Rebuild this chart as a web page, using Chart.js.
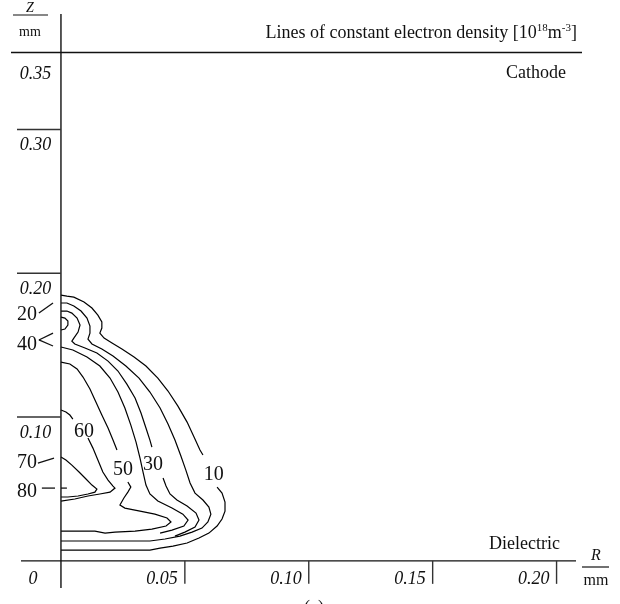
<!DOCTYPE html>
<html>
<head>
<meta charset="utf-8">
<script src="https://cdn.jsdelivr.net/npm/chart.js@4.4.0/dist/chart.umd.min.js"></script>
<style>
  html, body { margin: 0; padding: 0; background: #fff; }
  #wrap { width: 620px; height: 604px; }
</style>
</head>
<body>
<div id="wrap"><canvas id="chart" width="620" height="604"></canvas></div>
<script>
// --- contour lines, R and Z in mm (null = gap where a label sits) ---
const r10 = [0, 0.0024, 0.0052, 0.0093, 0.0125, 0.0149, 0.0165, 0.0165, 0.0157, 0.0174, 0.0206, 0.0246, 0.0295, 0.0343, 0.0391, 0.0432, 0.0472, 0.0509, 0.0537, 0.0561, 0.0573, null, 0.0630, 0.0650, 0.0662, 0.0662, 0.0650, 0.0630, 0.0597, 0.0557, 0.0509, 0.0452, 0.0400, 0.0359, 0];
const z10 = [0.1848, 0.1841, 0.1834, 0.1800, 0.1758, 0.1709, 0.1661, 0.1619, 0.1584, 0.1549, 0.1515, 0.1473, 0.1417, 0.1355, 0.1271, 0.1181, 0.1076, 0.0965, 0.0861, 0.0771, 0.0736, null, 0.0513, 0.0471, 0.0409, 0.0346, 0.0291, 0.0242, 0.0193, 0.0159, 0.0124, 0.0103, 0.0089, 0.0075, 0.0075];

const r20 = [0, 0.0024, 0.0052, 0.0081, 0.0105, 0.0117, 0.0117, 0.0109, 0.0125, 0.0165, 0.0210, 0.0262, 0.0315, 0.0359, 0.0400, 0.0432, 0.0460, 0.0484, 0.0504, 0.0521, 0.0541, 0.0573, 0.0597, 0.0605, 0.0593, 0.0569, 0.0529, 0.0480, 0.0420, 0.0359, 0];
const z20 = [0.1793, 0.1793, 0.1772, 0.1737, 0.1688, 0.1633, 0.1584, 0.1542, 0.1508, 0.1473, 0.1424, 0.1355, 0.1271, 0.1174, 0.1063, 0.0951, 0.0840, 0.0729, 0.0631, 0.0541, 0.0471, 0.0423, 0.0374, 0.0325, 0.0270, 0.0228, 0.0200, 0.0172, 0.0152, 0.0138, 0.0138];

const r30 = [0, 0.0024, 0.0044, 0.0065, 0.0077, 0.0069, 0.0052, 0.0044, 0.0056, 0.0097, 0.0145, 0.0190, 0.0230, 0.0266, 0.0299, 0.0323, 0.0343, 0.0359, 0.0367, null, 0.0412, 0.0424, 0.0440, 0.0468, 0.0509, 0.0545, 0.0557, 0.0541, 0.0500, 0.0460];
const z30 = [0.1737, 0.1737, 0.1723, 0.1688, 0.1640, 0.1591, 0.1549, 0.1528, 0.1508, 0.1480, 0.1445, 0.1389, 0.1320, 0.1229, 0.1132, 0.1028, 0.0924, 0.0840, 0.0791, null, 0.0576, 0.0520, 0.0465, 0.0423, 0.0381, 0.0332, 0.0284, 0.0235, 0.0200, 0.0172];

const r40 = [0, 0.0048, 0.0105, 0.0157, 0.0198, 0.0230, 0.0258, 0.0282, 0.0303, 0.0319, 0.0331, 0.0343, 0.0359, 0.0391, 0.0448, 0.0492, 0.0513, 0.0496, 0.0448, 0.0400];
const z40 = [0.1487, 0.1466, 0.1417, 0.1355, 0.1271, 0.1174, 0.1063, 0.0944, 0.0826, 0.0715, 0.0618, 0.0527, 0.0465, 0.0416, 0.0367, 0.0325, 0.0284, 0.0242, 0.0214, 0.0193];

// small 40 island next to the axis
const r40b = [0, 0.0016, 0.0028, 0.0028, 0.0016, 0];
const z40b = [0.1695, 0.1688, 0.1668, 0.1640, 0.1612, 0.1605];

const r50 = [0, 0.0036, 0.0065, 0.0089, 0.0117, 0.0141, 0.0165, 0.0190, 0.0210, 0.0226, null, 0.0270, 0.0282, 0.0270, 0.0254, 0.0238, 0.0258, 0.0319, 0.0379, 0.0428, 0.0444, 0.0424, 0.0367, 0.0299, 0.0218, 0.0178, 0.0137, 0];
const z50 = [0.1382, 0.1369, 0.1334, 0.1278, 0.1195, 0.1104, 0.1014, 0.0924, 0.0840, 0.0771, null, 0.0548, 0.0513, 0.0478, 0.0437, 0.0388, 0.0367, 0.0346, 0.0325, 0.0298, 0.0270, 0.0242, 0.0221, 0.0207, 0.0200, 0.0193, 0.0207, 0.0207];

const r60 = [0, 0.0020, 0.0036, 0.0048, null, 0.0109, 0.0129, 0.0149, 0.0169, 0.0190, 0.0210, 0.0218, 0.0198, 0.0157, 0.0109, 0.0056, 0];
const z60 = [0.1049, 0.1035, 0.1014, 0.0986, null, 0.0854, 0.0784, 0.0701, 0.0618, 0.0562, 0.0520, 0.0506, 0.0478, 0.0465, 0.0451, 0.0430, 0.0416];

const r70 = [0, 0.0020, 0.0044, 0.0073, 0.0101, 0.0125, 0.0145, 0.0137, 0.0109, 0.0069, 0.0028, 0];
const z70 = [0.0722, 0.0701, 0.0666, 0.0618, 0.0569, 0.0527, 0.0499, 0.0478, 0.0465, 0.0451, 0.0444, 0.0444];

const r80 = [0, 0.0024];
const z80 = [0.0506, 0.0506];

// --- ticks ---
const rTicks = [0, 0.05, 0.10, 0.15, 0.20];
const rTickLabels = ['0', '0.05', '0.10', '0.15', '0.20'];
const zTicks = [0.10, 0.20, 0.30, 0.35];
const zTickLabels = ['0.10', '0.20', '0.30', '0.35'];
const cathodeZ = 0.3535;

// --- contour labels ---
const inlineLabels = ['60', '50', '30', '10'];
const inlineR = [0.0093, 0.0250, 0.0371, 0.0617];
const inlineZ = [0.0896, 0.0631, 0.0666, 0.0597];

const sideLabels = ['20', '40', '70', '80'];
const sideZ = [0.1709, 0.1501, 0.0680, 0.0478];
// leader strokes: [r1, z1, r2, z2]
const leaders = [
    [-0.0089, 0.1723, -0.0032, 0.1793],
    [-0.0089, 0.1536, -0.0032, 0.1584],
    [-0.0089, 0.1536, -0.0032, 0.1494],
    [-0.0093, 0.0680, -0.0028, 0.0715],
    [-0.0077, 0.0506, -0.0024, 0.0506]
];

const SERIF = '"Liberation Serif", "Times New Roman", serif';

function pts(r, z) {
    return r.map((v, i) => ({ x: v, y: z[i] }));
}

function contour(r, z) {
    return {
        data: pts(r, z),
        borderColor: '#000',
        borderWidth: 1.2,
        pointRadius: 0,
        tension: 0,
        fill: false,
        spanGaps: false
    };
}

function seg(ctx, x1, y1, x2, y2) {
    ctx.beginPath();
    ctx.moveTo(x1, y1);
    ctx.lineTo(x2, y2);
    ctx.stroke();
}

// right aligned text with superscripts: parts = [text, size, rise]
function richText(ctx, parts, xRight, base) {
    let w = 0;
    parts.forEach(p => { ctx.font = p[1] + 'px ' + SERIF; w += ctx.measureText(p[0]).width; });
    let cx = xRight - w;
    ctx.textAlign = 'left';
    parts.forEach(p => {
        ctx.font = p[1] + 'px ' + SERIF;
        ctx.fillText(p[0], cx, base - p[2]);
        cx += ctx.measureText(p[0]).width;
    });
}

const framePlugin = {
    id: 'frame',
    afterDatasetsDraw(chart) {
        const { ctx, scales: { x, y } } = chart;
        const x0 = x.getPixelForValue(0);
        const y0 = y.getPixelForValue(0);
        ctx.save();
        ctx.strokeStyle = '#111';
        ctx.fillStyle = '#111';
        ctx.lineWidth = 1.4;

        // axes, cathode and dielectric lines
        seg(ctx, x0, 14, x0, 588);
        seg(ctx, 21, y0, 576, y0);
        const yc = y.getPixelForValue(cathodeZ);
        seg(ctx, 11, yc, 582, yc);

        // R ticks
        ctx.textBaseline = 'alphabetic';
        ctx.font = 'italic 18px ' + SERIF;
        rTicks.forEach((v, i) => {
            const px = x.getPixelForValue(v);
            if (v !== 0) {
                ctx.strokeStyle = '#333';
                seg(ctx, px, y0, px, y0 + 23);
                ctx.textAlign = 'right';
                ctx.fillText(rTickLabels[i], px - 7, y0 + 23);
            } else {
                ctx.textAlign = 'center';
                ctx.fillText(rTickLabels[i], px - 28, y0 + 23);
            }
        });

        // Z ticks
        zTicks.forEach((v, i) => {
            const py = y.getPixelForValue(v);
            if (v < 0.35) {
                ctx.strokeStyle = '#333';
                seg(ctx, 17, py, x0, py);
            }
            ctx.textAlign = 'center';
            ctx.fillText(zTickLabels[i], x0 - 25.5, py + 21);
        });

        // axis unit fractions
        ctx.strokeStyle = '#111';
        ctx.lineWidth = 1.2;
        ctx.textAlign = 'center';
        ctx.font = 'italic 14px ' + SERIF;
        ctx.fillText('Z', 30, 12);
        seg(ctx, 13, 15, 48, 15);
        ctx.font = '14px ' + SERIF;
        ctx.fillText('mm', 30, 36);

        ctx.font = 'italic 16px ' + SERIF;
        ctx.fillText('R', 596, 560);
        seg(ctx, 582, 567, 609, 567);
        ctx.font = '16px ' + SERIF;
        ctx.fillText('mm', 596, 585);

        // titles
        richText(ctx, [
            ['Lines of constant electron density [10', 18, 0],
            ['18', 11, 7],
            ['m', 18, 0],
            ['-3', 11, 7],
            [']', 18, 0]
        ], 577, 38);
        ctx.font = '18px ' + SERIF;
        ctx.textAlign = 'right';
        ctx.fillText('Cathode', 566, 78);
        ctx.fillText('Dielectric', 560, 549);
        ctx.textAlign = 'center';
        ctx.fillText('(a)', 314, 613);

        // contour labels
        ctx.font = '20px ' + SERIF;
        ctx.textBaseline = 'middle';
        ctx.textAlign = 'center';
        inlineLabels.forEach((t, i) => {
            ctx.fillText(t, x.getPixelForValue(inlineR[i]), y.getPixelForValue(inlineZ[i]));
        });
        sideLabels.forEach((t, i) => {
            ctx.fillText(t, x0 - 34, y.getPixelForValue(sideZ[i]));
        });
        ctx.lineWidth = 1.3;
        leaders.forEach(l => {
            seg(ctx, x.getPixelForValue(l[0]), y.getPixelForValue(l[1]),
                     x.getPixelForValue(l[2]), y.getPixelForValue(l[3]));
        });
        ctx.restore();
    }
};

new Chart(document.getElementById('chart'), {
    type: 'line',
    data: {
        datasets: [
            contour(r10, z10), contour(r20, z20), contour(r30, z30),
            contour(r40, z40), contour(r40b, z40b), contour(r50, z50),
            contour(r60, z60), contour(r70, z70), contour(r80, z80)
        ]
    },
    options: {
        responsive: false,
        animation: false,
        devicePixelRatio: 1,
        layout: { padding: 0 },
        plugins: { legend: { display: false }, tooltip: { enabled: false } },
        scales: {
            x: { type: 'linear', min: -0.0246, max: 0.2256, display: false },
            y: { type: 'linear', min: -0.03, max: 0.39, display: false }
        }
    },
    plugins: [framePlugin]
});
</script>
</body>
</html>
